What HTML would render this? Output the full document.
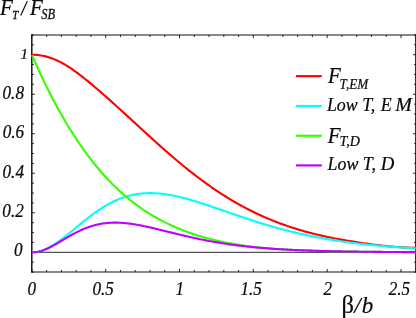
<!DOCTYPE html>
<html><head><meta charset="utf-8"><title>plot</title>
<style>html,body{margin:0;padding:0;background:#fff;}body{width:416px;height:318px;position:relative;overflow:hidden;font-family:"Liberation Serif",serif;}</style>
</head><body>
<svg width="416" height="318" viewBox="0 0 416 318" style="position:absolute;left:0;top:0">
<line x1="31.8" y1="252.30" x2="415.75" y2="252.30" stroke="#111" stroke-width="0.9"/>
<path d="M31.1,35.0H416M31.1,271.97H416" stroke="#111" stroke-width="1.05" fill="none"/>
<line x1="31.8" y1="34.5" x2="31.8" y2="272.47" stroke="#111" stroke-width="1.45"/>
<line x1="415.75" y1="34.5" x2="415.75" y2="272.47" stroke="#111" stroke-width="1.2"/>
<path d="M31.85,271.97v-3.0M31.85,35.00v3.0M46.62,271.97v-2.0M46.62,35.00v2.0M61.38,271.97v-2.0M61.38,35.00v2.0M76.15,271.97v-2.0M76.15,35.00v2.0M90.91,271.97v-2.0M90.91,35.00v2.0M105.68,271.97v-3.0M105.68,35.00v3.0M120.45,271.97v-2.0M120.45,35.00v2.0M135.21,271.97v-2.0M135.21,35.00v2.0M149.98,271.97v-2.0M149.98,35.00v2.0M164.74,271.97v-2.0M164.74,35.00v2.0M179.51,271.97v-3.0M179.51,35.00v3.0M194.28,271.97v-2.0M194.28,35.00v2.0M209.04,271.97v-2.0M209.04,35.00v2.0M223.81,271.97v-2.0M223.81,35.00v2.0M238.57,271.97v-2.0M238.57,35.00v2.0M253.34,271.97v-3.0M253.34,35.00v3.0M268.11,271.97v-2.0M268.11,35.00v2.0M282.87,271.97v-2.0M282.87,35.00v2.0M297.64,271.97v-2.0M297.64,35.00v2.0M312.40,271.97v-2.0M312.40,35.00v2.0M327.17,271.97v-3.0M327.17,35.00v3.0M341.94,271.97v-2.0M341.94,35.00v2.0M356.70,271.97v-2.0M356.70,35.00v2.0M371.47,271.97v-2.0M371.47,35.00v2.0M386.23,271.97v-2.0M386.23,35.00v2.0M401.00,271.97v-3.0M401.00,35.00v3.0M415.77,271.97v-2.0M415.77,35.00v2.0M31.8,272.06h2.1M415.75,272.06h-1.7M31.8,262.18h2.1M415.75,262.18h-1.7M31.8,252.30h3.1M415.75,252.30h-2.7M31.8,242.42h2.1M415.75,242.42h-1.7M31.8,232.54h2.1M415.75,232.54h-1.7M31.8,222.66h2.1M415.75,222.66h-1.7M31.8,212.78h3.1M415.75,212.78h-2.7M31.8,202.90h2.1M415.75,202.90h-1.7M31.8,193.02h2.1M415.75,193.02h-1.7M31.8,183.14h2.1M415.75,183.14h-1.7M31.8,173.26h3.1M415.75,173.26h-2.7M31.8,163.38h2.1M415.75,163.38h-1.7M31.8,153.50h2.1M415.75,153.50h-1.7M31.8,143.62h2.1M415.75,143.62h-1.7M31.8,133.74h3.1M415.75,133.74h-2.7M31.8,123.86h2.1M415.75,123.86h-1.7M31.8,113.98h2.1M415.75,113.98h-1.7M31.8,104.10h2.1M415.75,104.10h-1.7M31.8,94.22h3.1M415.75,94.22h-2.7M31.8,84.34h2.1M415.75,84.34h-1.7M31.8,74.46h2.1M415.75,74.46h-1.7M31.8,64.58h2.1M415.75,64.58h-1.7M31.8,54.70h3.1M415.75,54.70h-2.7M31.8,44.82h2.1M415.75,44.82h-1.7M31.8,34.94h2.1M415.75,34.94h-1.7" stroke="#111" stroke-width="0.9" fill="none"/>
<path d="M32.00,54.71 L33.50,54.73 L35.00,54.80 L36.50,54.90 L38.00,55.04 L39.50,55.23 L41.00,55.46 L42.50,55.72 L44.00,56.03 L45.50,56.38 L47.00,56.77 L48.50,57.21 L50.00,57.68 L51.50,58.20 L53.00,58.75 L54.50,59.35 L56.00,59.99 L57.50,60.67 L59.00,61.39 L60.50,62.15 L62.00,62.95 L63.50,63.78 L65.00,64.65 L66.50,65.55 L68.00,66.49 L69.50,67.45 L71.00,68.45 L72.50,69.47 L74.00,70.52 L75.50,71.59 L77.00,72.69 L78.50,73.81 L80.00,74.96 L81.50,76.12 L83.00,77.30 L84.50,78.49 L86.00,79.70 L87.50,80.93 L89.00,82.16 L90.50,83.41 L92.00,84.67 L93.50,85.93 L95.00,87.21 L96.50,88.49 L98.00,89.78 L99.50,91.07 L101.00,92.37 L102.50,93.68 L104.00,94.99 L105.50,96.31 L107.00,97.64 L108.50,98.97 L110.00,100.31 L111.50,101.65 L113.00,102.99 L114.50,104.34 L116.00,105.69 L117.50,107.05 L119.00,108.41 L120.50,109.77 L122.00,111.14 L123.50,112.51 L125.00,113.88 L126.50,115.25 L128.00,116.63 L129.50,118.00 L131.00,119.38 L132.50,120.76 L134.00,122.13 L135.50,123.51 L137.00,124.89 L138.50,126.27 L140.00,127.65 L141.50,129.02 L143.00,130.40 L144.50,131.77 L146.00,133.14 L147.50,134.51 L149.00,135.88 L150.50,137.24 L152.00,138.61 L153.50,139.96 L155.00,141.32 L156.50,142.67 L158.00,144.02 L159.50,145.36 L161.00,146.70 L162.50,148.03 L164.00,149.36 L165.50,150.68 L167.00,151.99 L168.50,153.30 L170.00,154.61 L171.50,155.90 L173.00,157.19 L174.50,158.47 L176.00,159.75 L177.50,161.01 L179.00,162.27 L180.50,163.52 L182.00,164.76 L183.50,165.99 L185.00,167.21 L186.50,168.42 L188.00,169.62 L189.50,170.82 L191.00,172.00 L192.50,173.18 L194.00,174.34 L195.50,175.50 L197.00,176.64 L198.50,177.78 L200.00,178.90 L201.50,180.02 L203.00,181.12 L204.50,182.22 L206.00,183.30 L207.50,184.37 L209.00,185.44 L210.50,186.49 L212.00,187.53 L213.50,188.57 L215.00,189.59 L216.50,190.60 L218.00,191.60 L219.50,192.59 L221.00,193.57 L222.50,194.53 L224.00,195.49 L225.50,196.43 L227.00,197.37 L228.50,198.29 L230.00,199.20 L231.50,200.10 L233.00,200.99 L234.50,201.87 L236.00,202.73 L237.50,203.58 L239.00,204.43 L240.50,205.26 L242.00,206.08 L243.50,206.89 L245.00,207.68 L246.50,208.47 L248.00,209.25 L249.50,210.01 L251.00,210.77 L252.50,211.51 L254.00,212.24 L255.50,212.97 L257.00,213.68 L258.50,214.38 L260.00,215.07 L261.50,215.76 L263.00,216.43 L264.50,217.09 L266.00,217.74 L267.50,218.39 L269.00,219.02 L270.50,219.64 L272.00,220.25 L273.50,220.86 L275.00,221.45 L276.50,222.04 L278.00,222.61 L279.50,223.18 L281.00,223.73 L282.50,224.28 L284.00,224.82 L285.50,225.35 L287.00,225.87 L288.50,226.38 L290.00,226.89 L291.50,227.38 L293.00,227.87 L294.50,228.34 L296.00,228.81 L297.50,229.27 L299.00,229.73 L300.50,230.17 L302.00,230.61 L303.50,231.04 L305.00,231.46 L306.50,231.87 L308.00,232.28 L309.50,232.68 L311.00,233.07 L312.50,233.46 L314.00,233.84 L315.50,234.21 L317.00,234.57 L318.50,234.93 L320.00,235.28 L321.50,235.63 L323.00,235.97 L324.50,236.30 L326.00,236.63 L327.50,236.95 L329.00,237.27 L330.50,237.58 L332.00,237.88 L333.50,238.18 L335.00,238.48 L336.50,238.77 L338.00,239.05 L339.50,239.33 L341.00,239.60 L342.50,239.87 L344.00,240.14 L345.50,240.40 L347.00,240.66 L348.50,240.91 L350.00,241.16 L351.50,241.40 L353.00,241.65 L354.50,241.88 L356.00,242.12 L357.50,242.35 L359.00,242.57 L360.50,242.80 L362.00,243.02 L363.50,243.24 L365.00,243.45 L366.50,243.66 L368.00,243.87 L369.50,244.08 L371.00,244.28 L372.50,244.47 L374.00,244.67 L375.50,244.86 L377.00,245.04 L378.50,245.22 L380.00,245.40 L381.50,245.57 L383.00,245.73 L384.50,245.89 L386.00,246.05 L387.50,246.20 L389.00,246.34 L390.50,246.48 L392.00,246.62 L393.50,246.74 L395.00,246.85 L396.50,246.96 L398.00,247.07 L399.50,247.17 L401.00,247.27 L402.50,247.37 L404.00,247.45 L405.50,247.52 L407.00,247.59 L408.50,247.65 L410.00,247.70 L411.50,247.74 L413.00,247.78 L414.50,247.80 L415.80,247.82" fill="none" stroke="#ff0000" stroke-width="2.1" stroke-linejoin="round"/>
<path d="M32.00,252.35 L33.50,252.30 L35.00,252.17 L36.50,251.97 L38.00,251.69 L39.50,251.34 L41.00,250.92 L42.50,250.42 L44.00,249.86 L45.50,249.24 L47.00,248.55 L48.50,247.80 L50.00,247.00 L51.50,246.14 L53.00,245.24 L54.50,244.29 L56.00,243.30 L57.50,242.27 L59.00,241.20 L60.50,240.10 L62.00,238.98 L63.50,237.82 L65.00,236.65 L66.50,235.46 L68.00,234.25 L69.50,233.02 L71.00,231.79 L72.50,230.55 L74.00,229.30 L75.50,228.06 L77.00,226.81 L78.50,225.57 L80.00,224.33 L81.50,223.10 L83.00,221.87 L84.50,220.66 L86.00,219.47 L87.50,218.29 L89.00,217.12 L90.50,215.98 L92.00,214.85 L93.50,213.74 L95.00,212.66 L96.50,211.60 L98.00,210.57 L99.50,209.56 L101.00,208.58 L102.50,207.63 L104.00,206.70 L105.50,205.81 L107.00,204.94 L108.50,204.10 L110.00,203.30 L111.50,202.52 L113.00,201.78 L114.50,201.07 L116.00,200.38 L117.50,199.73 L119.00,199.12 L120.50,198.53 L122.00,197.98 L123.50,197.45 L125.00,196.96 L126.50,196.50 L128.00,196.07 L129.50,195.68 L131.00,195.31 L132.50,194.97 L134.00,194.66 L135.50,194.39 L137.00,194.14 L138.50,193.92 L140.00,193.72 L141.50,193.56 L143.00,193.42 L144.50,193.31 L146.00,193.23 L147.50,193.17 L149.00,193.14 L150.50,193.13 L152.00,193.14 L153.50,193.18 L155.00,193.24 L156.50,193.33 L158.00,193.43 L159.50,193.56 L161.00,193.71 L162.50,193.87 L164.00,194.06 L165.50,194.26 L167.00,194.48 L168.50,194.72 L170.00,194.98 L171.50,195.25 L173.00,195.54 L174.50,195.84 L176.00,196.16 L177.50,196.49 L179.00,196.84 L180.50,197.19 L182.00,197.56 L183.50,197.94 L185.00,198.34 L186.50,198.74 L188.00,199.15 L189.50,199.57 L191.00,200.00 L192.50,200.44 L194.00,200.89 L195.50,201.35 L197.00,201.81 L198.50,202.28 L200.00,202.75 L201.50,203.23 L203.00,203.72 L204.50,204.21 L206.00,204.70 L207.50,205.20 L209.00,205.71 L210.50,206.21 L212.00,206.72 L213.50,207.23 L215.00,207.75 L216.50,208.26 L218.00,208.78 L219.50,209.30 L221.00,209.82 L222.50,210.34 L224.00,210.86 L225.50,211.38 L227.00,211.90 L228.50,212.42 L230.00,212.94 L231.50,213.46 L233.00,213.98 L234.50,214.49 L236.00,215.01 L237.50,215.52 L239.00,216.03 L240.50,216.54 L242.00,217.05 L243.50,217.55 L245.00,218.05 L246.50,218.55 L248.00,219.05 L249.50,219.54 L251.00,220.03 L252.50,220.51 L254.00,221.00 L255.50,221.47 L257.00,221.95 L258.50,222.42 L260.00,222.89 L261.50,223.35 L263.00,223.81 L264.50,224.26 L266.00,224.71 L267.50,225.16 L269.00,225.60 L270.50,226.04 L272.00,226.47 L273.50,226.90 L275.00,227.32 L276.50,227.74 L278.00,228.15 L279.50,228.56 L281.00,228.97 L282.50,229.37 L284.00,229.76 L285.50,230.15 L287.00,230.54 L288.50,230.92 L290.00,231.30 L291.50,231.67 L293.00,232.03 L294.50,232.39 L296.00,232.75 L297.50,233.10 L299.00,233.45 L300.50,233.79 L302.00,234.13 L303.50,234.46 L305.00,234.79 L306.50,235.11 L308.00,235.43 L309.50,235.74 L311.00,236.05 L312.50,236.35 L314.00,236.65 L315.50,236.95 L317.00,237.24 L318.50,237.52 L320.00,237.81 L321.50,238.08 L323.00,238.35 L324.50,238.62 L326.00,238.89 L327.50,239.14 L329.00,239.40 L330.50,239.65 L332.00,239.90 L333.50,240.14 L335.00,240.38 L336.50,240.61 L338.00,240.84 L339.50,241.07 L341.00,241.29 L342.50,241.51 L344.00,241.72 L345.50,241.93 L347.00,242.14 L348.50,242.34 L350.00,242.54 L351.50,242.74 L353.00,242.93 L354.50,243.12 L356.00,243.31 L357.50,243.49 L359.00,243.67 L360.50,243.84 L362.00,244.01 L363.50,244.18 L365.00,244.35 L366.50,244.51 L368.00,244.67 L369.50,244.82 L371.00,244.98 L372.50,245.13 L374.00,245.28 L375.50,245.42 L377.00,245.56 L378.50,245.70 L380.00,245.84 L381.50,245.97 L383.00,246.10 L384.50,246.23 L386.00,246.35 L387.50,246.48 L389.00,246.60 L390.50,246.71 L392.00,246.83 L393.50,246.94 L395.00,247.05 L396.50,247.16 L398.00,247.27 L399.50,247.37 L401.00,247.47 L402.50,247.57 L404.00,247.67 L405.50,247.77 L407.00,247.86 L408.50,247.95 L410.00,248.04 L411.50,248.13 L413.00,248.21 L414.50,248.30 L415.80,248.37" fill="none" stroke="#00ffff" stroke-width="2.1" stroke-linejoin="round"/>
<path d="M32.00,55.09 L33.50,58.54 L35.00,61.93 L36.50,65.29 L38.00,68.59 L39.50,71.86 L41.00,75.08 L42.50,78.25 L44.00,81.39 L45.50,84.48 L47.00,87.53 L48.50,90.53 L50.00,93.50 L51.50,96.42 L53.00,99.30 L54.50,102.14 L56.00,104.95 L57.50,107.71 L59.00,110.43 L60.50,113.11 L62.00,115.75 L63.50,118.35 L65.00,120.92 L66.50,123.44 L68.00,125.93 L69.50,128.38 L71.00,130.80 L72.50,133.17 L74.00,135.52 L75.50,137.82 L77.00,140.09 L78.50,142.32 L80.00,144.52 L81.50,146.68 L83.00,148.81 L84.50,150.90 L86.00,152.96 L87.50,154.99 L89.00,156.98 L90.50,158.95 L92.00,160.87 L93.50,162.77 L95.00,164.63 L96.50,166.47 L98.00,168.27 L99.50,170.04 L101.00,171.78 L102.50,173.49 L104.00,175.17 L105.50,176.82 L107.00,178.44 L108.50,180.03 L110.00,181.59 L111.50,183.13 L113.00,184.64 L114.50,186.12 L116.00,187.57 L117.50,189.00 L119.00,190.40 L120.50,191.77 L122.00,193.12 L123.50,194.45 L125.00,195.75 L126.50,197.02 L128.00,198.27 L129.50,199.50 L131.00,200.70 L132.50,201.88 L134.00,203.03 L135.50,204.17 L137.00,205.28 L138.50,206.37 L140.00,207.44 L141.50,208.49 L143.00,209.51 L144.50,210.52 L146.00,211.50 L147.50,212.47 L149.00,213.42 L150.50,214.35 L152.00,215.26 L153.50,216.15 L155.00,217.02 L156.50,217.87 L158.00,218.71 L159.50,219.53 L161.00,220.33 L162.50,221.12 L164.00,221.88 L165.50,222.64 L167.00,223.37 L168.50,224.09 L170.00,224.80 L171.50,225.49 L173.00,226.16 L174.50,226.82 L176.00,227.47 L177.50,228.10 L179.00,228.72 L180.50,229.33 L182.00,229.92 L183.50,230.50 L185.00,231.07 L186.50,231.62 L188.00,232.16 L189.50,232.69 L191.00,233.21 L192.50,233.72 L194.00,234.22 L195.50,234.71 L197.00,235.18 L198.50,235.65 L200.00,236.11 L201.50,236.56 L203.00,236.99 L204.50,237.42 L206.00,237.84 L207.50,238.25 L209.00,238.65 L210.50,239.04 L212.00,239.42 L213.50,239.79 L215.00,240.16 L216.50,240.51 L218.00,240.86 L219.50,241.20 L221.00,241.53 L222.50,241.85 L224.00,242.16 L225.50,242.47 L227.00,242.76 L228.50,243.05 L230.00,243.34 L231.50,243.61 L233.00,243.88 L234.50,244.14 L236.00,244.39 L237.50,244.64 L239.00,244.88 L240.50,245.11 L242.00,245.34 L243.50,245.56 L245.00,245.77 L246.50,245.98 L248.00,246.18 L249.50,246.37 L251.00,246.56 L252.50,246.75 L254.00,246.92 L255.50,247.10 L257.00,247.26 L258.50,247.42 L260.00,247.58 L261.50,247.73 L263.00,247.88 L264.50,248.02 L266.00,248.16 L267.50,248.29 L269.00,248.42 L270.50,248.54 L272.00,248.66 L273.50,248.78 L275.00,248.89 L276.50,249.00 L278.00,249.10 L279.50,249.20 L281.00,249.30 L282.50,249.39 L284.00,249.48 L285.50,249.57 L287.00,249.65 L288.50,249.73 L290.00,249.81 L291.50,249.88 L293.00,249.95 L294.50,250.02 L296.00,250.09 L297.50,250.16 L299.00,250.22 L300.50,250.28 L302.00,250.34 L303.50,250.40 L305.00,250.46 L306.50,250.51 L308.00,250.57 L309.50,250.62 L311.00,250.67 L312.50,250.72 L314.00,250.76 L315.50,250.81 L317.00,250.85 L318.50,250.90 L320.00,250.94 L321.50,250.98 L323.00,251.02 L324.50,251.06 L326.00,251.09 L327.50,251.13 L329.00,251.16 L330.50,251.20 L332.00,251.23 L333.50,251.26 L335.00,251.29 L336.50,251.32 L338.00,251.35 L339.50,251.38 L341.00,251.41 L342.50,251.44 L344.00,251.46 L345.50,251.49 L347.00,251.51 L348.50,251.53 L350.00,251.56 L351.50,251.58 L353.00,251.60 L354.50,251.62 L356.00,251.64 L357.50,251.66 L359.00,251.68 L360.50,251.70 L362.00,251.72 L363.50,251.74 L365.00,251.76 L366.50,251.77 L368.00,251.79 L369.50,251.81 L371.00,251.82 L372.50,251.84 L374.00,251.85 L375.50,251.87 L377.00,251.88 L378.50,251.89 L380.00,251.91 L381.50,251.92 L383.00,251.93 L384.50,251.95 L386.00,251.96 L387.50,251.97 L389.00,251.98 L390.50,252.00 L392.00,252.01 L393.50,252.02 L395.00,252.03 L396.50,252.04 L398.00,252.05 L399.50,252.06 L401.00,252.07 L402.50,252.08 L404.00,252.09 L405.50,252.10 L407.00,252.11 L408.50,252.12 L410.00,252.13 L411.50,252.14 L413.00,252.15 L414.50,252.16 L415.80,252.17" fill="none" stroke="#33ff00" stroke-width="2.1" stroke-linejoin="round"/>
<path d="M32.00,252.34 L33.50,252.29 L35.00,252.17 L36.50,251.97 L38.00,251.69 L39.50,251.34 L41.00,250.92 L42.50,250.44 L44.00,249.90 L45.50,249.30 L47.00,248.66 L48.50,247.97 L50.00,247.23 L51.50,246.47 L53.00,245.67 L54.50,244.84 L56.00,244.00 L57.50,243.13 L59.00,242.26 L60.50,241.37 L62.00,240.49 L63.50,239.60 L65.00,238.71 L66.50,237.83 L68.00,236.96 L69.50,236.10 L71.00,235.25 L72.50,234.42 L74.00,233.62 L75.50,232.83 L77.00,232.07 L78.50,231.33 L80.00,230.61 L81.50,229.93 L83.00,229.27 L84.50,228.65 L86.00,228.05 L87.50,227.49 L89.00,226.95 L90.50,226.45 L92.00,225.98 L93.50,225.54 L95.00,225.14 L96.50,224.76 L98.00,224.42 L99.50,224.11 L101.00,223.83 L102.50,223.58 L104.00,223.37 L105.50,223.18 L107.00,223.02 L108.50,222.89 L110.00,222.79 L111.50,222.71 L113.00,222.66 L114.50,222.64 L116.00,222.64 L117.50,222.67 L119.00,222.72 L120.50,222.79 L122.00,222.88 L123.50,222.99 L125.00,223.12 L126.50,223.27 L128.00,223.44 L129.50,223.63 L131.00,223.83 L132.50,224.05 L134.00,224.28 L135.50,224.52 L137.00,224.78 L138.50,225.05 L140.00,225.33 L141.50,225.62 L143.00,225.92 L144.50,226.23 L146.00,226.55 L147.50,226.88 L149.00,227.21 L150.50,227.55 L152.00,227.89 L153.50,228.24 L155.00,228.60 L156.50,228.96 L158.00,229.32 L159.50,229.68 L161.00,230.05 L162.50,230.42 L164.00,230.78 L165.50,231.15 L167.00,231.53 L168.50,231.90 L170.00,232.27 L171.50,232.64 L173.00,233.01 L174.50,233.37 L176.00,233.74 L177.50,234.10 L179.00,234.47 L180.50,234.83 L182.00,235.18 L183.50,235.54 L185.00,235.89 L186.50,236.23 L188.00,236.58 L189.50,236.92 L191.00,237.26 L192.50,237.59 L194.00,237.92 L195.50,238.24 L197.00,238.56 L198.50,238.88 L200.00,239.19 L201.50,239.49 L203.00,239.80 L204.50,240.09 L206.00,240.39 L207.50,240.67 L209.00,240.96 L210.50,241.23 L212.00,241.51 L213.50,241.77 L215.00,242.04 L216.50,242.30 L218.00,242.55 L219.50,242.80 L221.00,243.04 L222.50,243.28 L224.00,243.51 L225.50,243.74 L227.00,243.97 L228.50,244.19 L230.00,244.40 L231.50,244.61 L233.00,244.82 L234.50,245.02 L236.00,245.21 L237.50,245.41 L239.00,245.59 L240.50,245.78 L242.00,245.96 L243.50,246.13 L245.00,246.30 L246.50,246.47 L248.00,246.63 L249.50,246.79 L251.00,246.94 L252.50,247.09 L254.00,247.24 L255.50,247.39 L257.00,247.52 L258.50,247.66 L260.00,247.79 L261.50,247.92 L263.00,248.05 L264.50,248.17 L266.00,248.29 L267.50,248.41 L269.00,248.52 L270.50,248.63 L272.00,248.74 L273.50,248.84 L275.00,248.94 L276.50,249.04 L278.00,249.13 L279.50,249.23 L281.00,249.32 L282.50,249.41 L284.00,249.49 L285.50,249.57 L287.00,249.65 L288.50,249.73 L290.00,249.81 L291.50,249.88 L293.00,249.95 L294.50,250.02 L296.00,250.09 L297.50,250.16 L299.00,250.22 L300.50,250.28 L302.00,250.34 L303.50,250.40 L305.00,250.46 L306.50,250.51 L308.00,250.57 L309.50,250.62 L311.00,250.67 L312.50,250.72 L314.00,250.76 L315.50,250.81 L317.00,250.85 L318.50,250.90 L320.00,250.94 L321.50,250.98 L323.00,251.02 L324.50,251.06 L326.00,251.09 L327.50,251.13 L329.00,251.16 L330.50,251.20 L332.00,251.23 L333.50,251.26 L335.00,251.29 L336.50,251.32 L338.00,251.35 L339.50,251.38 L341.00,251.41 L342.50,251.44 L344.00,251.46 L345.50,251.49 L347.00,251.51 L348.50,251.53 L350.00,251.56 L351.50,251.58 L353.00,251.60 L354.50,251.62 L356.00,251.64 L357.50,251.66 L359.00,251.68 L360.50,251.70 L362.00,251.72 L363.50,251.74 L365.00,251.76 L366.50,251.77 L368.00,251.79 L369.50,251.81 L371.00,251.82 L372.50,251.84 L374.00,251.85 L375.50,251.87 L377.00,251.88 L378.50,251.89 L380.00,251.91 L381.50,251.92 L383.00,251.93 L384.50,251.95 L386.00,251.96 L387.50,251.97 L389.00,251.98 L390.50,252.00 L392.00,252.01 L393.50,252.02 L395.00,252.03 L396.50,252.04 L398.00,252.05 L399.50,252.06 L401.00,252.07 L402.50,252.08 L404.00,252.09 L405.50,252.10 L407.00,252.11 L408.50,252.12 L410.00,252.13 L411.50,252.14 L413.00,252.15 L414.50,252.16 L415.80,252.17" fill="none" stroke="#bf00ff" stroke-width="2.1" stroke-linejoin="round"/>
<line x1="296" y1="76.15" x2="321.8" y2="76.15" stroke="#ff0000" stroke-width="2.15"/>
<line x1="296" y1="106.0" x2="321.8" y2="106.0" stroke="#00ffff" stroke-width="2.15"/>
<line x1="296" y1="135.75" x2="321.8" y2="135.75" stroke="#33ff00" stroke-width="2.15"/>
<line x1="296" y1="165.4" x2="321.8" y2="165.4" stroke="#bf00ff" stroke-width="2.15"/>
<g font-family="Liberation Serif, serif" fill="#0a0a0a" font-style="italic" stroke="#0a0a0a" stroke-width="0.22" style="will-change:transform">
<text x="20.45" y="58.9" font-size="15">1</text>
<text transform="translate(2.51,98.52) scale(1,1.05)" font-size="17.2">0.8</text>
<text transform="translate(2.66,138.04) scale(1,1.05)" font-size="17.2">0.6</text>
<text transform="translate(2.51,177.56) scale(1,1.05)" font-size="17.2">0.4</text>
<text transform="translate(2.36,217.08) scale(1,1.05)" font-size="17.2">0.2</text>
<text transform="translate(14.11,256.45) scale(1,1.05)" font-size="17.2">0</text>
<text transform="translate(27.56,295.4) scale(1,1.05)" font-size="17.2">0</text>
<text transform="translate(92.41,295.4) scale(1,1.05)" font-size="17.2">0.5</text>
<text transform="translate(175.52,295.4) scale(1,1.05)" font-size="17.2">1</text>
<text transform="translate(240.46,295.4) scale(1,1.05)" font-size="17.2">1.5</text>
<text transform="translate(323.44,295.4) scale(1,1.05)" font-size="17.2">2</text>
<text transform="translate(388.69,295.4) scale(1,1.05)" font-size="17.2">2.5</text>
<text transform="translate(0.05,14.95) scale(1,1.07)" font-size="21">F</text>
<text transform="translate(12.3,18.6) scale(0.9,1.12)" font-size="12" stroke-width="0.3">T</text>
<line x1="20.75" y1="15.6" x2="27.35" y2="1.1" stroke="#0a0a0a" stroke-width="1.15"/>
<text transform="translate(29.95,14.95) scale(1,1.07)" font-size="21">F</text>
<text transform="translate(41.27,18.75) scale(1,1.2)" font-size="12.5">SB</text>
<text transform="translate(327.9,83.3) scale(1,1.06)" font-size="21">F</text>
<text transform="translate(339.55,88.6) scale(0.94,1)" font-size="14">T,EM</text>
<text x="326.9" y="110.6" font-size="17.9">Low T,</text>
<text x="380.7" y="110.6" font-size="17.9">E</text>
<text transform="translate(395.2,110.6) scale(1.12,1)" font-size="17.9">M</text>
<text transform="translate(327.65,142.6) scale(1,1.07)" font-size="21">F</text>
<text transform="translate(339.4,146.2) scale(1,1)" font-size="14">T,D</text>
<text x="327.5" y="170.3" font-size="17.9">Low T,</text>
<text transform="translate(380.8,170.3) scale(1.05,1)" font-size="17.9">D</text>
<text x="341.6" y="312.8" font-size="24.5" font-style="normal">β</text>
<text x="354.3" y="312.8" font-size="23">/</text>
<text x="361.8" y="312.8" font-size="23">b</text>
</g>
</svg>
</body></html>
